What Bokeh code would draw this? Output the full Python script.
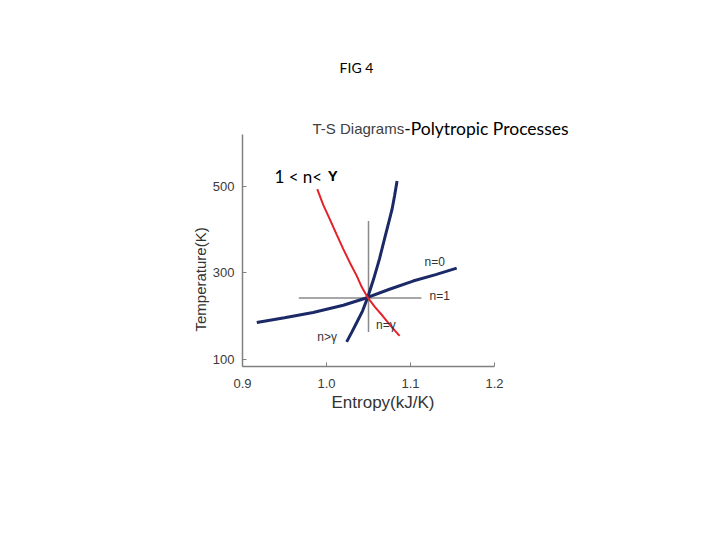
from bokeh.plotting import figure
from bokeh.models import Label, Title
from bokeh.embed import file_html
from bokeh.resources import INLINE

# data
s_n0 = [0.917, 0.950, 0.984, 1.020, 1.049, 1.075, 1.103, 1.130, 1.155]
T_n0 = [185, 196, 208, 225, 243, 262, 281, 296, 311]

s_ngam = [1.024, 1.027, 1.030, 1.036, 1.043, 1.049, 1.056, 1.063, 1.069, 1.075, 1.078, 1.081, 1.084]
T_ngam = [140, 151, 162, 185, 212, 243, 285, 332, 378, 424, 447, 478, 513]

s_red = [0.989, 0.996, 1.004, 1.012, 1.020, 1.028, 1.036, 1.042, 1.049, 1.058, 1.067, 1.077, 1.087]
T_red = [494, 458, 424, 389, 355, 323, 293, 267, 243, 220, 200, 176, 154]

s_iso = [1.050, 1.050]
T_iso = [163, 420]

s_isoT = [0.967, 1.113]
T_isoT = [242, 242]

x_ticks = [0.9, 1.0, 1.1, 1.2]
y_ticks = [100, 300, 500]
x_bounds = (0.9, 1.2)
y_bounds = (83, 621)

p = figure(width=704, height=524, x_range=(0.9, 1.325), y_range=(83, 806),
           output_backend="svg", toolbar_location=None,
           min_border_left=242, min_border_right=105,
           min_border_top=54, min_border_bottom=158)
p.outline_line_color = None
p.grid.visible = False
p.background_fill_color = "white"
p.border_fill_color = "white"

p.xaxis.ticker = x_ticks
p.yaxis.ticker = y_ticks
p.xaxis.bounds = x_bounds
p.yaxis.bounds = y_bounds
p.xaxis.major_label_overrides = {0.9: "0.9", 1.0: "1.0", 1.1: "1.1", 1.2: "1.2"}
for ax in (p.xaxis, p.yaxis):
    ax.axis_line_color = "#808080"
    ax.axis_line_width = 1.5
    ax.major_tick_line_color = "#808080"
    ax.major_tick_in = 4
    ax.major_tick_out = 0
    ax.minor_tick_line_color = None
    ax.major_label_text_font = "Liberation Sans"
    ax.major_label_text_font_size = "13px"
    ax.major_label_text_color = "#3a3a3a"
p.xaxis.major_label_standoff = 12
p.yaxis.major_label_standoff = 8

# axis titles placed with offsets (the frame is wider/taller than the axes)
p.add_layout(Title(text="Entropy(kJ/K)", align="left", offset=89, standoff=0,
                   text_font="Liberation Sans", text_font_size="17px",
                   text_font_style="normal", text_color="#333333"), "below")
p.add_layout(Title(text="Temperature(K)", align="left", offset=35, standoff=2,
                   text_font="Liberation Sans", text_font_size="15px",
                   text_font_style="normal", text_color="#333333"), "left")

p.line(s_isoT, T_isoT, line_color="#8a8a8a", line_width=1.5)
p.line(s_iso, T_iso, line_color="#8a8a8a", line_width=1.5)
p.line(s_n0, T_n0, line_color="#1b2a66", line_width=3)
p.line(s_ngam, T_ngam, line_color="#1b2a66", line_width=3)
p.line(s_red, T_red, line_color="#e3232a", line_width=2)

def lab(x, y, t, size="12px", font="Liberation Sans", color="#333333", align="left", style="normal"):
    p.add_layout(Label(x=x, y=y, text=t, text_font=font, text_font_size=size,
                       text_color=color, text_align=align, text_baseline="middle",
                       text_font_style=style))

lab(1.1167, 325, "n=0")
lab(1.1226, 246, "n=1")
lab(1.059, 179, "n=\u03b3")
lab(0.989, 152, "n>\u03b3")
lab(0.938, 524, "1 < n<", size="17px", font="Lato", color="#000000")
lab(1.0016, 526, "\u03a5", size="15px", font="Liberation Sans", color="#000000", style="bold")

lab(0.9833, 635, "T-S Diagrams", size="15px", color="#404040")
lab(1.0925, 635, "-Polytropic Processes", size="17.5px", font="Lato", color="#000000")
lab(1.0357, 776, "FIG 4", size="14px", font="Lato", color="#000000", align="center")

open("out.html", "w").write(file_html(p, INLINE))
